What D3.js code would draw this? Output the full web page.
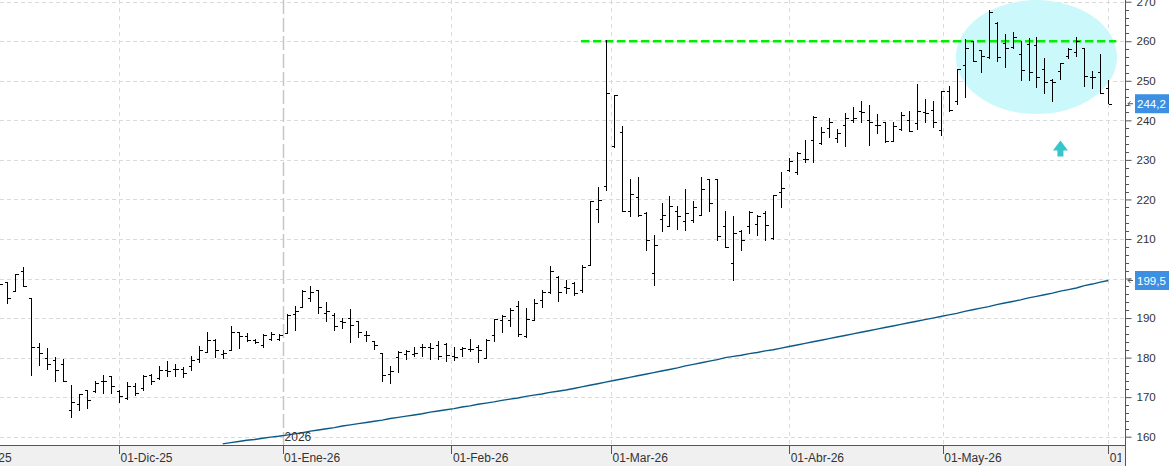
<!DOCTYPE html>
<html>
<head>
<meta charset="utf-8">
<script src="https://cdn.jsdelivr.net/npm/d3@7"></script>
<style>
  body { margin: 0; background: #fff; overflow: hidden; }
  svg { display: block; }
  text { font-family: "Liberation Sans", Arial, sans-serif; fill: #333; }
</style>
</head>
<body>
<script>
// ---- data (daily OHLC, first bar = index -1, partly off screen) ----
const firstIdx = -1;
const open  = [199.5,199.1,196.9,201.8,195.2,182.8,179.9,179.5,178.5,166.8,168.3,171.9,171.5,174.0,175.3,171.5,169.8,172.7,172.3,175.7,
  174.8,176.9,177.1,177.1,177.8,179.6,181.4,184.4,180.9,182.0,186.4,185.5,184.5,183.3,184.7,184.7,186.2,191.0,192.9,195.1,
  197.0,191.4,190.8,189.2,190.0,189.2,185.8,184.1,181.2,175.9,180.1,181.0,181.0,182.7,182.7,183.3,183.5,180.3,182.2,182.2,
  182.7,179.9,185.8,189.5,189.5,193.0,185.5,189.5,194.6,196.7,200.5,197.8,198.9,197.0,203.3,217.6,223.5,233.6,237.0,217.0,
  220.6,216.6,201.4,215.0,213.4,217.2,214.6,214.7,216.0,225.1,225.1,213.2,203.9,212.1,213.2,213.8,216.6,210.2,222.0,227.5,
  226.9,230.2,235.1,234.3,238.0,235.5,238.8,240.2,242.3,240.2,238.9,239.6,234.9,237.8,240.2,239.3,242.1,242.7,237.6,247.3,
  244.8,254.1,260.0,257.7,256.0,264.6,259.5,258.5,256.8,259.4,259.1,253.0,250.3,252.4,256.3,257.2,258.3,250.9,252.1,248.2];
const high  = [200.5,199.1,201.1,202.8,195.2,183.7,182.4,180.1,179.6,173.1,170.9,171.9,174.2,175.7,175.3,171.9,173.8,173.6,175.7,175.9,
  177.8,179.2,178.5,177.6,180.3,183.0,186.6,184.7,182.0,188.1,186.6,186.2,184.7,186.0,186.4,186.0,191.1,193.0,197.2,198.2,
  197.2,194.0,191.3,190.0,192.3,189.2,186.8,184.3,181.2,177.8,181.6,182.0,182.7,183.4,183.7,184.3,183.8,182.8,182.6,184.7,
  183.3,184.7,189.8,190.8,192.5,194.2,192.5,194.8,197.0,203.2,200.7,199.7,199.0,203.5,219.5,223.1,260.2,246.5,238.6,225.1,
  225.7,216.7,211.1,219.2,220.9,218.4,222.7,219.7,225.7,225.1,225.1,217.0,215.9,212.3,217.0,216.1,217.1,221.2,226.9,230.5,
  232.0,235.1,241.2,238.2,240.6,237.8,241.8,243.4,245.0,243.9,241.7,239.7,239.6,242.1,242.4,249.3,245.5,244.8,247.5,248.6,
  253.0,260.5,260.0,257.9,268.0,264.8,261.9,262.3,260.1,260.8,261.1,255.7,250.5,254.6,258.3,261.1,258.4,252.5,256.8,250.3];
const low   = [197.5,193.8,196.9,198.0,175.5,178.2,177.1,174.2,174.2,165.0,166.8,167.2,171.2,171.0,171.0,168.9,169.5,170.5,171.9,173.3,
  174.6,175.3,175.3,175.0,176.9,179.0,181.4,180.1,179.9,182.0,182.4,184.1,183.7,182.7,184.5,184.5,186.2,187.1,192.8,194.2,
  191.4,189.2,187.1,187.5,183.9,185.2,184.1,182.2,174.0,173.7,176.3,179.6,180.5,180.3,179.6,179.6,179.2,179.5,180.3,181.7,
  178.8,179.9,184.1,186.6,187.9,185.5,185.2,189.5,192.8,196.3,194.2,196.3,195.9,196.7,203.3,214.2,222.3,233.2,217.2,215.9,
  215.9,207.1,198.4,211.9,213.4,212.6,212.3,214.4,216.0,217.2,209.8,208.0,199.5,207.1,211.5,211.1,209.8,210.0,218.1,227.1,
  226.5,229.4,229.4,234.1,235.9,234.5,233.5,239.5,239.7,233.7,236.8,234.5,234.9,237.5,237.2,237.8,239.5,238.3,236.2,242.3,
  244.1,245.8,254.9,252.1,255.7,254.9,253.6,258.3,250.3,250.1,248.4,246.9,244.8,250.4,255.7,256.2,248.6,248.2,246.9,244.4];
const close = [198.6,195.1,201.1,198.2,182.8,181.2,178.5,176.9,174.2,168.9,170.9,169.4,173.6,174.2,172.7,170.2,172.7,171.0,175.4,174.0,
  176.9,176.5,177.1,176.1,179.5,182.0,184.5,181.8,181.2,186.4,185.4,184.4,183.9,185.8,186.0,185.8,190.8,191.7,196.9,196.7,
  192.8,191.7,188.1,188.9,188.3,186.4,185.8,183.1,175.7,176.5,181.3,181.6,181.2,182.7,182.4,180.5,180.7,180.1,182.4,182.2,
  182.0,184.5,189.8,190.6,192.1,186.0,189.8,193.8,196.7,201.8,196.7,197.6,196.3,202.9,219.5,219.9,246.9,246.3,217.2,221.4,
  216.1,209.8,208.4,216.1,218.4,215.9,216.6,218.1,222.7,219.1,210.8,208.0,211.5,209.8,216.8,215.9,213.6,221.2,222.9,229.6,
  231.7,230.2,240.8,237.0,239.7,236.9,240.6,240.6,242.0,239.7,238.7,234.7,238.5,241.4,237.4,242.3,241.8,239.7,247.3,242.5,
  253.0,258.3,255.1,256.3,267.5,256.0,258.3,261.0,252.8,252.1,250.9,249.8,249.8,254.6,258.0,260.0,251.1,250.9,246.9,244.2];

// moving average, from bar index 27
const maStart = 27;
const ma = [158.2,158.5,158.8,159.1,159.3,159.6,159.9,160.1,160.4,160.7,161.0,161.4,161.7,
  162.0,162.3,162.7,163.0,163.3,163.6,163.9,164.2,164.6,164.9,165.2,165.5,165.8,166.2,166.5,166.8,167.1,167.5,167.8,168.2,
  168.5,168.8,169.2,169.5,169.8,170.2,170.5,170.8,171.2,171.5,171.8,172.2,172.6,173.0,173.4,173.8,174.2,174.6,175.0,175.4,
  175.8,176.2,176.6,177.0,177.4,177.9,178.3,178.7,179.1,179.5,180.0,180.3,180.6,181.0,181.3,181.7,182.0,182.4,182.8,183.2,
  183.6,184.0,184.4,184.8,185.2,185.6,186.0,186.4,186.8,187.2,187.6,188.0,188.4,188.8,189.2,189.6,190.0,190.4,190.8,191.2,
  191.7,192.1,192.5,192.9,193.4,193.8,194.2,194.6,195.1,195.5,195.9,196.3,196.8,197.2,197.6,198.2,198.6,199.1,199.5];

// month labels and their position on the bar index axis (calendar position)
const monthLabels = ["01-Nov-25", "01-Dic-25", "01-Ene-26", "01-Feb-26", "01-Mar-26", "01-Abr-26", "01-May-26", "01-Jun-26"];
const monthPos    = [-6.67, 14, 34.5, 55.67, 75.67, 98, 117.25, 138];
const yearLabel = "2026";
const yearPos = 34.5;

const yTicks = d3.range(160, 271, 10);
const yMinor = d3.range(160, 271, 2);

const lastPrice = 244.2;
const lastMa = 199.5;
const resistance = 260;
const resistanceFrom = 71.9, resistanceTo = 139;

// annotation (ellipse round the last bars, arrow underneath)
const zone = { cx: 129, cy: 256, rx: 10.1, ry: 14.4 };
const arrowAt = { i: 132, v: 234.9 };

// ---- layout ----
const W = 1174, H = 466;
const plotR = 1125, plotB = 445;

const x = d3.scaleLinear().domain([-1, 138]).range([-0.68, 1108.3]);
const y = d3.scaleLinear().domain([160, 270]).range([436.7, 1.7]);

const fmt = v => d3.format(".1f")(v).replace(".", ",");
const cr = v => Math.round(v) + 0.5;

const svg = d3.select("body").append("svg").attr("width", W).attr("height", H);

svg.append("defs").append("clipPath").attr("id", "plot")
  .append("rect").attr("x", 0).attr("y", 0).attr("width", plotR).attr("height", plotB);

const plot = svg.append("g").attr("clip-path", "url(#plot)");

// horizontal grid
plot.append("g").selectAll("line").data(yTicks).enter().append("line")
  .attr("x1", 0).attr("x2", plotR)
  .attr("y1", d => cr(y(d))).attr("y2", d => cr(y(d)))
  .attr("stroke", "#dadada").attr("stroke-dasharray", "4,3")
  .attr("shape-rendering", "crispEdges");

// vertical grid
plot.append("g").selectAll("line").data(monthPos.filter(p => p !== yearPos)).enter().append("line")
  .attr("x1", d => cr(x(d))).attr("x2", d => cr(x(d)))
  .attr("y1", 0).attr("y2", plotB)
  .attr("stroke", "#dadada").attr("stroke-dasharray", "4,4")
  .attr("shape-rendering", "crispEdges");

plot.append("line")
  .attr("x1", cr(x(yearPos))).attr("x2", cr(x(yearPos)))
  .attr("y1", 0).attr("y2", plotB)
  .attr("stroke", "#c6c6c6").attr("stroke-width", 1.5).attr("stroke-dasharray", "14,4");

// annotation zone
plot.append("ellipse")
  .attr("cx", x(zone.cx)).attr("cy", y(zone.cy))
  .attr("rx", x(zone.cx + zone.rx) - x(zone.cx))
  .attr("ry", y(zone.cy - zone.ry) - y(zone.cy))
  .attr("fill", "#cbf9fb");

// moving average
const maData = ma.map((v, k) => [maStart + k, v]);
plot.append("path").datum(maData)
  .attr("d", d3.line().x(d => x(d[0])).y(d => y(d[1])))
  .attr("fill", "none").attr("stroke", "#0a5a87").attr("stroke-width", 1.4);

// resistance
plot.append("line")
  .attr("x1", x(resistanceFrom)).attr("x2", x(resistanceTo))
  .attr("y1", y(resistance)).attr("y2", y(resistance))
  .attr("stroke", "#00ee00").attr("stroke-width", 2.6).attr("stroke-dasharray", "8.5,3.5");

// OHLC bars
const bars = open.map((o, k) => ({ i: firstIdx + k, o, h: high[k], l: low[k], c: close[k] }));
const bg = plot.append("g").attr("stroke", "#000").attr("shape-rendering", "crispEdges");
const b = bg.selectAll("g").data(bars).enter().append("g");
b.append("line")
  .attr("x1", d => cr(x(d.i))).attr("x2", d => cr(x(d.i)))
  .attr("y1", d => Math.round(y(d.h))).attr("y2", d => Math.round(y(d.l)) + 1);
b.append("line")
  .attr("x1", d => cr(x(d.i)) - 3).attr("x2", d => cr(x(d.i)))
  .attr("y1", d => cr(y(d.o))).attr("y2", d => cr(y(d.o)));
b.append("line")
  .attr("x1", d => cr(x(d.i))).attr("x2", d => cr(x(d.i)) + 3)
  .attr("y1", d => cr(y(d.c))).attr("y2", d => cr(y(d.c)));

// arrow
const ax = x(arrowAt.i), ay = y(arrowAt.v);
plot.append("path")
  .attr("d", `M${ax},${ay} L${ax + 7.5},${ay + 10} L${ax + 3},${ay + 10} L${ax + 3},${ay + 16} L${ax - 3},${ay + 16} L${ax - 3},${ay + 10} L${ax - 7.5},${ay + 10} Z`)
  .attr("fill", "#34c6cb");

// year label
svg.append("text").attr("x", x(yearPos) + 2).attr("y", 441)
  .attr("font-size", 12).text(yearLabel);

// x axis band
svg.append("rect").attr("x", 0).attr("y", plotB).attr("width", plotR).attr("height", H - plotB)
  .attr("fill", "#f0f0f0");
svg.append("line").attr("x1", 0).attr("x2", plotR).attr("y1", plotB + 0.5).attr("y2", plotB + 0.5)
  .attr("stroke", "#555");

svg.append("clipPath").attr("id", "xband")
  .append("rect").attr("x", 0).attr("y", plotB).attr("width", plotR - 4).attr("height", H - plotB);
const xa = svg.append("g").attr("clip-path", "url(#xband)");
xa.selectAll("line").data(monthPos).enter().append("line")
  .attr("x1", d => cr(x(d))).attr("x2", d => cr(x(d)))
  .attr("y1", plotB).attr("y2", plotB + 9)
  .attr("stroke", "#555").attr("shape-rendering", "crispEdges");
xa.selectAll("text").data(monthLabels).enter().append("text")
  .attr("x", (d, k) => x(monthPos[k]) + 1.5).attr("y", 462)
  .attr("font-size", 12).text(d => d);

// y axis
const yAxis = svg.append("g").attr("transform", `translate(${plotR + 0.5},0)`)
  .call(d3.axisRight(y).tickValues(yTicks).tickSize(6).tickPadding(5).tickSizeOuter(0).tickFormat(d3.format("d")));
yAxis.select(".domain").remove();
yAxis.selectAll("line").attr("stroke", "#555");
yAxis.selectAll("text").attr("font-size", 11.5).attr("fill", "#333")
  .attr("font-family", "\"Liberation Sans\", Arial, sans-serif");

svg.append("g").selectAll("line").data(yMinor.filter(v => v % 10 !== 0)).enter().append("line")
  .attr("x1", plotR).attr("x2", plotR + 4)
  .attr("y1", d => cr(y(d))).attr("y2", d => cr(y(d)))
  .attr("stroke", "#555").attr("shape-rendering", "crispEdges");

svg.append("line").attr("x1", plotR + 0.5).attr("x2", plotR + 0.5).attr("y1", 0).attr("y2", H)
  .attr("stroke", "#555");

// value boxes
[lastPrice, lastMa].forEach(v => {
  const yy = y(v);
  svg.append("rect").attr("x", 1135).attr("y", yy - 9.5).attr("width", 34).attr("height", 19)
    .attr("fill", "#3d8fe2");
  svg.append("text").attr("x", 1137).attr("y", yy).attr("dy", "0.36em")
    .attr("font-size", 11.5).style("fill", "#fff").text(fmt(v));
  svg.append("path")
    .attr("d", `M${plotR + 8},${yy} L${plotR + 3},${yy} M${plotR + 5.5},${yy - 2.5} L${plotR + 3},${yy} L${plotR + 5.5},${yy + 2.5}`)
    .attr("fill", "none").attr("stroke", "#555");
});
</script>
</body>
</html>
